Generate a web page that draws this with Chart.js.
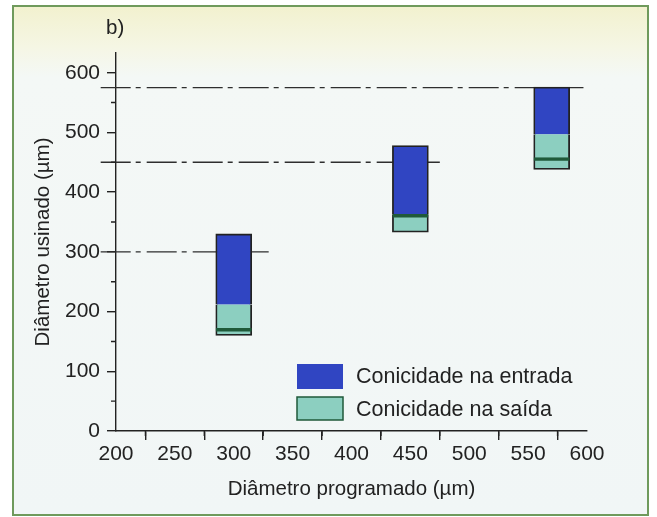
<!DOCTYPE html>
<html>
<head>
<meta charset="utf-8">
<script src="https://cdn.jsdelivr.net/npm/chart.js@4.4.1/dist/chart.umd.min.js"></script>
<style>
  html, body { margin: 0; padding: 0; background: #ffffff; }
  #frame {
    position: absolute; left: 12px; top: 5px; width: 633px; height: 507px;
    border: 2px solid #6f9a5c;
    background: linear-gradient(to bottom, #f2f1cf 0px, #f5f6e4 40px, #f4f8f6 70px, #f1f6f6 100%);
  }
  #wrap { position: absolute; left: 0; top: 0; width: 657px; height: 517px; }
</style>
</head>
<body>
<div id="frame"></div>
<div id="wrap"><canvas id="bar-chart" width="657" height="517"></canvas></div>
<script>
// data
const diametros = [300, 450, 570];          // programmed diameter (bar centre)
const entradaTopo = [330, 478, 576];        // top of "entrada" band
const transicao = [212, 363, 497];          // entrada / saída boundary
const saidaBase = [160, 333, 438];          // bottom of "saída" band
const linhaSaida = [172, 363, 458];         // dark line inside saída band

const refNivel = [300, 450, 575];           // dash-dot reference levels
const refFim = [330, 475, 597];             // where each reference line ends
const refInicio = 187;

const xTicks = [200, 250, 300, 350, 400, 450, 500, 550, 600];
const yTicks = [0, 100, 200, 300, 400, 500, 600];

const legendLabels = ["Conicidade na entrada", "Conicidade na saída"];

const INK = "#222222";
const BLUE = "#3045c2";
const GREEN = "#8ccfc0";
const DARKGREEN = "#1f5a3a";
const FONT = "'Liberation Sans', Arial, sans-serif";

Chart.defaults.font.family = FONT;
Chart.defaults.color = INK;

// minor ticks, legend box and the "b)" panel tag
const extras = {
  id: "extras",
  afterDraw(chart) {
    const ctx = chart.ctx;
    const x = chart.scales.x, y = chart.scales.y;
    ctx.save();
    ctx.strokeStyle = INK;
    ctx.lineWidth = 1.4;
    ctx.beginPath();
    for (let i = 0; i < yTicks.length - 1; i++) {
      const py = y.getPixelForValue((yTicks[i] + yTicks[i + 1]) / 2);
      ctx.moveTo(x.left - 5, py);
      ctx.lineTo(x.left, py);
    }
    for (let i = 0; i < xTicks.length - 1; i++) {
      const px = x.getPixelForValue((xTicks[i] + xTicks[i + 1]) / 2);
      ctx.moveTo(px, y.bottom);
      ctx.lineTo(px, y.bottom + 5);
    }
    ctx.stroke();

    // legend
    ctx.fillStyle = BLUE;
    ctx.fillRect(297, 364, 46, 25);
    ctx.fillStyle = GREEN;
    ctx.fillRect(297, 397, 46, 23);
    ctx.strokeStyle = DARKGREEN;
    ctx.lineWidth = 1.5;
    ctx.strokeRect(297, 397, 46, 23);
    ctx.fillStyle = INK;
    ctx.font = "21.5px " + FONT;
    ctx.textBaseline = "middle";
    ctx.textAlign = "left";
    ctx.fillText(legendLabels[0], 356, 377);
    ctx.fillText(legendLabels[1], 356, 410);

    ctx.font = "20.5px " + FONT;
    ctx.fillText("b)", 106, 28);
    ctx.restore();
  }
};

const config = {
  type: "bar",
  data: {
    datasets: [
      {
        label: legendLabels[0],
        data: diametros.map((d, i) => ({ x: d, y: [transicao[i], entradaTopo[i]] })),
        backgroundColor: BLUE,
        borderColor: INK,
        borderWidth: { top: 1.8, left: 1.8, right: 1.8, bottom: 0 },
        borderSkipped: false,
        order: 1,
      },
      {
        label: legendLabels[1],
        data: diametros.map((d, i) => ({ x: d, y: [saidaBase[i], transicao[i]] })),
        backgroundColor: GREEN,
        borderColor: INK,
        borderWidth: { top: 0, left: 1.8, right: 1.8, bottom: 1.8 },
        borderSkipped: false,
        order: 1,
      },
      {
        label: "linha",
        data: diametros.map((d, i) => ({ x: d, y: [saidaBase[i], linhaSaida[i]] })),
        backgroundColor: "rgba(0,0,0,0)",
        borderColor: DARKGREEN,
        borderWidth: { top: 3, left: 0, right: 0, bottom: 0 },
        borderSkipped: false,
        order: 0,
      },
      ...refNivel.map((v, i) => ({
        type: "line",
        label: "ref " + v,
        data: [{ x: refInicio, y: v }, { x: refFim[i], y: v }],
        borderColor: "#2e2e2e",
        borderWidth: 1.4,
        borderDash: [30, 5, 5, 6],
        pointRadius: 0,
        clip: false,
        order: 5,
      })),
    ],
  },
  options: {
    responsive: false,
    animation: false,
    datasets: { bar: { grouped: false, barThickness: 36 } },
    layout: { padding: { left: 0, right: 70, top: 53, bottom: 0 } },
    plugins: {
      legend: { display: false },
      tooltip: { enabled: false },
      title: { display: false },
    },
    scales: {
      x: {
        type: "linear",
        min: 200,
        max: 600,
        offset: false,
        afterFit: (s) => { s.height = 86; },
        afterBuildTicks: (s) => { s.ticks = xTicks.map((v) => ({ value: v })); },
        ticks: { font: { size: 21 }, color: INK, padding: 2, maxRotation: 0 },
        grid: { drawOnChartArea: false, drawTicks: true, tickLength: 9, color: INK, lineWidth: 1.4 },
        border: { display: true, color: INK, width: 1.4 },
        title: {
          display: true,
          text: "Diâmetro programado (µm)",
          font: { size: 20.5 },
          color: INK,
          padding: { top: 0, bottom: 15 },
        },
      },
      y: {
        min: 0,
        max: 633,
        afterFit: (s) => { s.width = 116; },
        afterBuildTicks: (s) => { s.ticks = yTicks.map((v) => ({ value: v })); },
        ticks: { font: { size: 21 }, color: INK, padding: 7 },
        grid: { drawOnChartArea: false, drawTicks: true, tickLength: 9, color: INK, lineWidth: 1.4 },
        border: { display: true, color: INK, width: 1.4 },
        title: {
          display: true,
          text: "Diâmetro usinado (µm)",
          font: { size: 20.5 },
          color: INK,
          padding: { top: 31, bottom: 0 },
        },
      },
    },
  },
  plugins: [extras],
};

new Chart(document.getElementById("bar-chart").getContext("2d"), config);
</script>
</body>
</html>
